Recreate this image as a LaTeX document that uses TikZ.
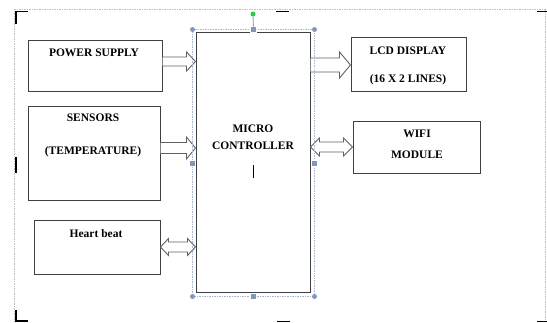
\documentclass[tikz,border=0pt]{standalone}
\usepackage{fontspec}
\setmainfont{Liberation Serif}
\usetikzlibrary{calc}

\definecolor{handlecol}{HTML}{8497BA}
\definecolor{selcol}{HTML}{A9B7CF}
\definecolor{greenhandle}{HTML}{2ECC40}

\tikzset{
  blockbox/.style={draw=black!75, line width=1pt, inner sep=0pt},
  boxtext/.style={font=\bfseries\fontsize{11.5}{13}\selectfont, inner sep=0pt, anchor=base},
  blockarrow/.style={draw=black!62, line width=0.9pt, fill=white, line join=miter},
  selframe/.style={draw=selcol, line width=0.7pt, dash pattern=on 1.5pt off 1pt},
  pageframe/.style={draw=black!25, line width=0.5pt, dash pattern=on 1.5pt off 1pt},
  cropmark/.style={draw=black, line width=1.8pt},
  roundhandle/.style={circle, fill=handlecol, inner sep=0pt, minimum size=5pt},
  squarehandle/.style={rectangle, fill=handlecol, draw=white, line width=0.3pt, inner sep=0pt, minimum size=6pt},
  rothandle/.style={circle, fill=greenhandle, inner sep=0pt, minimum size=5pt}
}

% right-pointing hollow block arrow: #1 start, #2 tip, #3 shaft half-height, #4 head half-height, #5 head length
\newcommand{\rarrowblk}[5]{%
  \draw[blockarrow] let \p1=(#1), \p2=(#2) in
    (\x1,\y1+#3) -- (\x2-#5,\y1+#3) -- (\x2-#5,\y1+#4) -- (\x2,\y1)
    -- (\x2-#5,\y1-#4) -- (\x2-#5,\y1-#3) -- (\x1,\y1-#3);}
% two-headed hollow block arrow: #1 left tip, #2 right tip, #3 shaft half-height, #4 head half-height, #5 head length
\newcommand{\darrowblk}[5]{%
  \draw[blockarrow] let \p1=(#1), \p2=(#2) in
    (\x1,\y1) -- (\x1+#5,\y1+#4) -- (\x1+#5,\y1+#3) -- (\x2-#5,\y1+#3)
    -- (\x2-#5,\y1+#4) -- (\x2,\y1) -- (\x2-#5,\y1-#4) -- (\x2-#5,\y1-#3)
    -- (\x1+#5,\y1-#3) -- (\x1+#5,\y1-#4) -- cycle;}

\begin{document}
\begin{tikzpicture}[x=1pt, y=-1pt]
  \useasboundingbox[fill=white] (0,0) rectangle (547,322);

  % page outline and crop marks
  \draw[pageframe] (14,322) -- (14,9.5) -- (545,9.5) -- (545,322);
  \draw[cropmark] (16,24) -- (16,11.5) -- (28,11.5);
  \draw[cropmark] (276,11.5) -- (289,11.5);
  \draw[cropmark] (537,11.5) -- (547,11.5);
  \draw[cropmark] (16,157) -- (16,173);
  \draw[cropmark] (16,310) -- (16,321) -- (28,321);
  \draw[cropmark] (277,321.5) -- (290,321.5);
  \draw[cropmark] (537,321.5) -- (547,321.5);

  % blocks
  \node[blockbox, minimum width=134pt, minimum height=51pt] (ps) at (95,65.5) {};
  \node[boxtext] at (94,56) {POWER SUPPLY};

  \node[blockbox, minimum width=132pt, minimum height=94pt] (sen) at (94,153) {};
  \node[boxtext] at (93,121) {SENSORS};
  \node[boxtext] at (93,154) {(TEMPERATURE)};

  \node[blockbox, minimum width=126pt, minimum height=54pt] (hb) at (97,247) {};
  \node[boxtext] at (96,237) {Heart beat};

  \node[blockbox, minimum width=114pt, minimum height=260pt] (mc) at (253,162) {};
  \node[boxtext] at (253,132) {MICRO};
  \node[boxtext] at (253,149) {CONTROLLER};
  \draw[black, line width=0.8pt] (253,165) -- (253,178);

  \node[blockbox, minimum width=115pt, minimum height=54pt] (lcd) at (408.5,64) {};
  \node[boxtext] at (408,54) {LCD DISPLAY};
  \node[boxtext] at (408,82) {(16 X 2 LINES)};

  \node[blockbox, minimum width=127pt, minimum height=52pt] (wifi) at (416.5,147) {};
  \node[boxtext] at (417,137) {WIFI};
  \node[boxtext] at (417,158) {MODULE};

  % connectors
  \rarrowblk{ps.east |- 0,61.5}{mc.west |- 0,61.5}{4.5pt}{9.5pt}{9pt}
  \rarrowblk{sen.east |- 0,148}{mc.west |- 0,148}{5.5pt}{11pt}{9pt}
  \rarrowblk{mc.east |- 0,65}{lcd.west |- 0,65}{7pt}{13pt}{11pt}
  \darrowblk{mc.east |- 0,147}{wifi.west |- 0,147}{5pt}{9pt}{9pt}
  \darrowblk{hb.east |- 0,247}{mc.west |- 0,247}{5pt}{8.5pt}{8pt}

  % selection frame round the controller
  \coordinate (s1) at ($(mc.north west)+(-3,-2)$);
  \coordinate (s2) at ($(mc.north east)+(4,-2)$);
  \coordinate (s3) at ($(mc.south east)+(4,4)$);
  \coordinate (s4) at ($(mc.south west)+(-3,4)$);
  \draw[selframe] (s1) -- (s2) -- (s3) -- (s4) -- cycle;
  \node[rothandle] (rot) at (253,14) {};
  \node[squarehandle] (hn) at ($(s1)!0.5!(s2)$) {};
  \draw[handlecol, line width=0.8pt] (rot) -- (hn);
  \node[squarehandle] (hs) at ($(s4)!0.5!(s3)$) {};
  \node[squarehandle] (hw) at ($(s1)!0.5!(s4)$) {};
  \node[squarehandle] (he) at ($(s2)!0.5!(s3)$) {};
  \foreach \c in {s1,s2,s3,s4} \node[roundhandle] at (\c) {};
\end{tikzpicture}
\end{document}
